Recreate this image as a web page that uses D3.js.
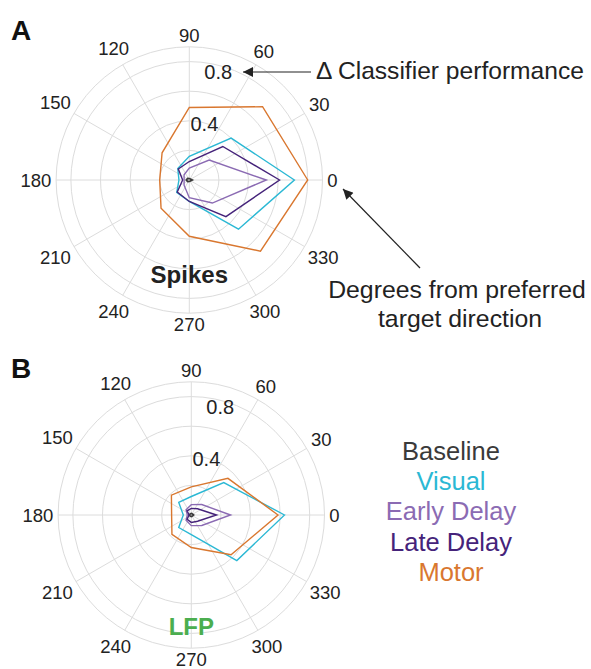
<!DOCTYPE html>
<html><head><meta charset="utf-8">
<script src="https://cdn.jsdelivr.net/npm/d3@7"></script>
<style>body{margin:0;background:#fff}svg{display:block}text{font-family:"Liberation Sans",Arial,Helvetica,sans-serif}</style>
</head><body>
<script>
// ---- data ----
const directions = [0, 45, 90, 135, 180, 225, 270, 315];
const seriesNames = ["Baseline", "Visual", "Early Delay", "Late Delay", "Motor"];
const seriesColors = ["#3a3a3a", "#2bb8d4", "#8b6bb3", "#45237a", "#d9772f"];
// Spikes (panel A)
const spikesBaseline = [0.02, 0.01, 0.01, 0.015, 0.02, 0.015, 0.01, 0.01];
const spikesVisual   = [0.71, 0.40, 0.16, 0.11, 0.07, 0.12, 0.145, 0.47];
const spikesEarly    = [0.52, 0.19, 0.08, 0.05, 0.035, 0.05, 0.12, 0.22];
const spikesLate     = [0.61, 0.32, 0.125, 0.105, 0.045, 0.115, 0.145, 0.35];
const spikesMotor    = [0.80, 0.70, 0.49, 0.26, 0.20, 0.27, 0.38, 0.68];
// LFP (panel B)
const lfpBaseline = [0.015, 0.01, 0.01, 0.01, 0.015, 0.01, 0.01, 0.01];
const lfpVisual   = [0.63, 0.31, 0.125, 0.12, 0.054, 0.12, 0.133, 0.435];
const lfpEarly    = [0.265, 0.10, 0.07, 0.05, 0.027, 0.05, 0.072, 0.10];
const lfpLate     = [0.17, 0.06, 0.045, 0.04, 0.015, 0.04, 0.05, 0.06];
const lfpMotor    = [0.586, 0.35, 0.19, 0.19, 0.133, 0.185, 0.22, 0.38];
const angleTicks = [0, 30, 60, 90, 120, 150, 180, 210, 240, 270, 300, 330];
const ringTicks = [0.2, 0.4, 0.6, 0.8];
const ringLabels = [0.4, 0.8];
const rMax = 0.9;

const W = 591, H = 669;
const svg = d3.select("body").append("svg").attr("width", W).attr("height", H);

const rScale = d3.scaleLinear().domain([0, rMax]).range([0, 133.2]);
const rad = a => a * Math.PI / 180;

function polar(g, cx, cy, series, title, titleColor, titleY) {
  const p = svg.append("g").attr("transform", `translate(${cx},${cy})`);
  p.selectAll("circle.ring").data(ringTicks.concat([rMax])).join("circle")
    .attr("r", d => rScale(d)).attr("fill", "none")
    .attr("stroke", "#dcdcdc").attr("stroke-width", 1);
  p.selectAll("line.spoke").data(angleTicks).join("line")
    .attr("x1", 0).attr("y1", 0)
    .attr("x2", d => rScale(rMax) * Math.cos(rad(d)))
    .attr("y2", d => -rScale(rMax) * Math.sin(rad(d)))
    .attr("stroke", "#dcdcdc").attr("stroke-width", 1);
  p.selectAll("text.ang").data(angleTicks).join("text")
    .attr("font-size", 18.5).attr("fill", "#222").attr("text-anchor", "middle")
    .attr("dominant-baseline", "central")
    .text(d => d)
    .each(function(d) {
      const w = this.getComputedTextLength(), h = 13;
      const a = rad(d);
      const r = 138 + (w / 2) * Math.abs(Math.cos(a)) + (h / 2) * Math.abs(Math.sin(a));
      d3.select(this).attr("x", r * Math.cos(a)).attr("y", -r * Math.sin(a));
    });
  p.selectAll("text.rl").data(ringLabels).join("text")
    .attr("font-size", 20).attr("fill", "#222").attr("text-anchor", "middle")
    .attr("dominant-baseline", "central")
    .attr("x", d => (5 + rScale(d) * 0.9) * Math.cos(rad(75)))
    .attr("y", d => -(5 + rScale(d) * 0.9) * Math.sin(rad(75)))
    .text(d => d.toFixed(1));
  const line = d3.lineRadial()
    .angle(d => rad(90 - d[0]))
    .radius(d => rScale(d[1]))
    .curve(d3.curveLinearClosed);
  series.forEach((vals, i) => {
    p.append("path")
      .datum(directions.map((a, k) => [a, vals[k]]))
      .attr("d", line).attr("fill", "none")
      .attr("stroke", seriesColors[i]).attr("stroke-width", i === 0 ? 1.8 : 1.4)
      .attr("stroke-linejoin", "miter");
  });
  p.append("text").attr("x", 0).attr("y", titleY).attr("text-anchor", "middle")
    .attr("font-size", 24).attr("font-weight", "bold").attr("fill", titleColor).text(title);
}

polar(svg, 189.3, 180, [spikesBaseline, spikesVisual, spikesEarly, spikesLate, spikesMotor], "Spikes", "#222", 103);
polar(svg, 191.3, 515, [lfpBaseline, lfpVisual, lfpEarly, lfpLate, lfpMotor], "LFP", "#4bae4f", 120);

svg.append("text").attr("x", 11).attr("y", 40).attr("font-size", 28).attr("font-weight", "bold").attr("fill", "#111").text("A");
svg.append("text").attr("x", 11).attr("y", 378).attr("font-size", 28).attr("font-weight", "bold").attr("fill", "#111").text("B");

const defs = svg.append("defs");
defs.append("marker").attr("id", "ah").attr("viewBox", "0 0 10 10").attr("refX", 10).attr("refY", 5)
  .attr("markerWidth", 14).attr("markerHeight", 10).attr("markerUnits", "userSpaceOnUse").attr("orient", "auto")
  .append("path").attr("d", "M0,0 L10,5 L0,10 Z").attr("fill", "#222");
svg.append("line").attr("x1", 311).attr("y1", 72).attr("x2", 243).attr("y2", 72)
  .attr("stroke", "#222").attr("stroke-width", 1.2).attr("marker-end", "url(#ah)");
svg.append("text").attr("x", 316).attr("y", 79).attr("font-size", 24.6).attr("fill", "#222").text("\u0394 Classifier performance");
svg.append("line").attr("x1", 420).attr("y1", 268).attr("x2", 343).attr("y2", 189)
  .attr("stroke", "#222").attr("stroke-width", 1.2).attr("marker-end", "url(#ah)");
svg.append("text").attr("x", 457).attr("y", 298).attr("text-anchor", "middle").attr("font-size", 24.8).attr("fill", "#222").text("Degrees from preferred");
svg.append("text").attr("x", 460).attr("y", 327).attr("text-anchor", "middle").attr("font-size", 24.8).attr("fill", "#222").text("target direction");

svg.selectAll("text.leg").data(seriesNames).join("text")
  .attr("x", 451).attr("y", (d, i) => 460 + i * 30.2).attr("text-anchor", "middle")
  .attr("font-size", 25.5).attr("fill", (d, i) => seriesColors[i]).text(d => d);
</script>
</body></html>
